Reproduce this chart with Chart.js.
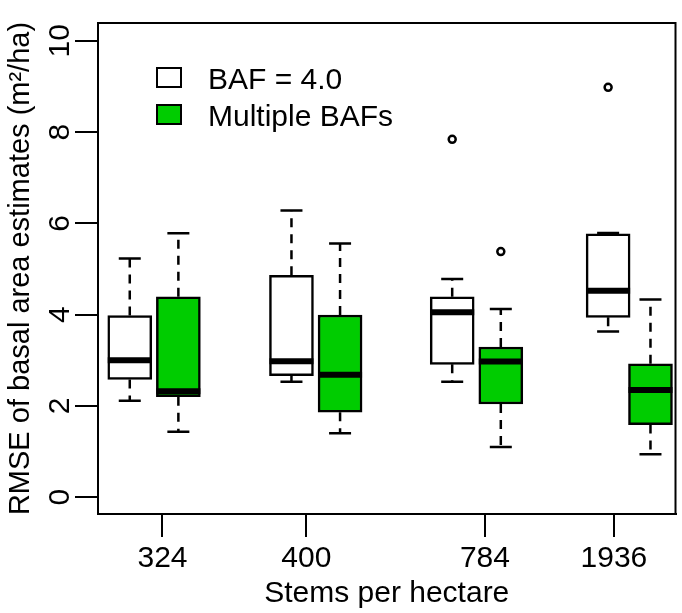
<!DOCTYPE html>
<html>
<head>
<meta charset="utf-8">
<title>RMSE of basal area estimates</title>
<script src="https://cdn.jsdelivr.net/npm/chart.js@4.4.1/dist/chart.umd.min.js"></script>
<style>
  html, body { margin: 0; padding: 0; background: #fff; }
  #wrap { width: 682px; height: 613px; }
</style>
</head>
<body>
<div id="wrap"><canvas id="boxChart" width="682" height="613"></canvas></div>
<script>
// Data
const stems = ['324', '400', '784', '1936'];
const seriesNames = ['BAF = 4.0', 'Multiple BAFs'];

// BAF = 4.0
const bafLow  = [2.11, 2.53, 2.53, 3.63];
const bafQ1   = [2.58, 2.66, 2.91, 3.94];
const bafMed  = [3.00, 2.98, 4.05, 4.52];
const bafQ3   = [3.98, 4.86, 4.39, 5.77];
const bafHigh = [5.23, 6.28, 4.78, 5.79];
const bafOut  = [[], [], [7.84], [8.98]];

// Multiple BAFs
const multiLow  = [1.43, 1.40, 1.10, 0.94];
const multiQ1   = [2.20, 1.86, 2.04, 1.59];
const multiMed  = [2.32, 2.68, 2.97, 2.35];
const multiQ3   = [4.39, 3.99, 3.29, 2.92];
const multiHigh = [5.78, 5.56, 4.12, 4.33];
const multiOut  = [[], [], [5.38], []];

const yTicks = [0, 2, 4, 6, 8, 10];

// where boxes and tick marks sit along x (like R's "at")
const bafAt   = [0.66, 4.02, 7.36, 10.60];
const multiAt = [1.67, 5.03, 8.37, 11.48];
const tickAt  = [1.34, 4.33, 8.04, 10.72];

const GREEN = '#00cc00';
const FONT = 'Liberation Sans, Arial, Helvetica, sans-serif';
Chart.defaults.font.family = FONT;
Chart.defaults.color = '#000';

function boxData(at, q1, q3) {
  return at.map((x, i) => ({ x: x, y: [q1[i], q3[i]] }));
}
function outData(at, outs) {
  const pts = [];
  outs.forEach((arr, i) => arr.forEach(v => pts.push({ x: at[i], y: v })));
  return pts;
}

// whiskers, medians, frame and legend
const boxPlugin = {
  id: 'boxExtras',
  afterDatasetsDraw(chart) {
    const { ctx, chartArea: a, scales: { x, y } } = chart;
    const groups = [
      { at: bafAt, low: bafLow, med: bafMed, q1: bafQ1, q3: bafQ3, high: bafHigh },
      { at: multiAt, low: multiLow, med: multiMed, q1: multiQ1, q3: multiQ3, high: multiHigh }
    ];
    ctx.save();
    ctx.strokeStyle = '#000';
    groups.forEach(g => {
      g.at.forEach((pos, i) => {
        const cx = x.getPixelForValue(pos);
        const half = 22, cap = 11;
        // whiskers
        ctx.lineWidth = 2.5;
        ctx.setLineDash([9, 7]);
        ctx.beginPath();
        ctx.moveTo(cx, y.getPixelForValue(g.q3[i]));
        ctx.lineTo(cx, y.getPixelForValue(g.high[i]));
        ctx.moveTo(cx, y.getPixelForValue(g.q1[i]));
        ctx.lineTo(cx, y.getPixelForValue(g.low[i]));
        ctx.stroke();
        ctx.setLineDash([]);
        ctx.beginPath();
        [g.high[i], g.low[i]].forEach(v => {
          const py = y.getPixelForValue(v);
          ctx.moveTo(cx - cap, py);
          ctx.lineTo(cx + cap, py);
        });
        ctx.stroke();
        // median
        ctx.lineWidth = 6;
        ctx.beginPath();
        const my = y.getPixelForValue(g.med[i]);
        ctx.moveTo(cx - half, my);
        ctx.lineTo(cx + half, my);
        ctx.stroke();
      });
    });

    // plot frame
    ctx.lineWidth = 2;
    ctx.strokeRect(a.left, a.top, a.right - a.left, a.bottom - a.top);

    // legend
    ctx.font = '30px ' + FONT;
    ctx.textBaseline = 'alphabetic';
    ctx.textAlign = 'left';
    [0, 1].forEach(k => {
      const ds = chart.data.datasets[k];
      const top = a.top + 45 + k * 37;
      ctx.fillStyle = ds.backgroundColor;
      ctx.fillRect(a.left + 59, top, 24, 19);
      ctx.lineWidth = 2;
      ctx.strokeRect(a.left + 59, top, 24, 19);
      ctx.fillStyle = '#000';
      ctx.fillText(ds.label, a.left + 110, top + 21);
    });
    ctx.restore();
  }
};

const ctx = document.getElementById('boxChart').getContext('2d');
new Chart(ctx, {
  type: 'bar',
  data: {
    datasets: [
      {
        label: seriesNames[0],
        data: boxData(bafAt, bafQ1, bafQ3),
        backgroundColor: '#ffffff',
        borderColor: '#000',
        borderWidth: 2.5,
        borderSkipped: false,
        barThickness: 44,
        grouped: false
      },
      {
        label: seriesNames[1],
        data: boxData(multiAt, multiQ1, multiQ3),
        backgroundColor: GREEN,
        borderColor: '#000',
        borderWidth: 2.5,
        borderSkipped: false,
        barThickness: 44,
        grouped: false
      },
      {
        type: 'line',
        label: 'outliers1',
        data: outData(bafAt, bafOut),
        showLine: false,
        pointRadius: 3.5,
        pointBorderWidth: 2.5,
        pointBorderColor: '#000',
        pointBackgroundColor: '#fff'
      },
      {
        type: 'line',
        label: 'outliers2',
        data: outData(multiAt, multiOut),
        showLine: false,
        pointRadius: 3.5,
        pointBorderWidth: 2.5,
        pointBorderColor: '#000',
        pointBackgroundColor: '#fff'
      }
    ]
  },
  options: {
    responsive: false,
    animation: false,
    layout: { padding: { top: 23, right: 2 } },
    plugins: { legend: { display: false }, tooltip: { enabled: false } },
    scales: {
      x: {
        type: 'linear',
        min: 0,
        max: 12,
        offset: false,
        afterBuildTicks: s => { s.ticks = tickAt.map(v => ({ value: v })); },
        afterFit: s => { s.height = 99; },
        ticks: {
          callback: (v, i) => stems[i],
          autoSkip: false,
          maxRotation: 0,
          padding: 4,
          color: '#000',
          font: { size: 30 }
        },
        grid: { drawOnChartArea: false, offset: false, tickLength: 23, color: '#000', lineWidth: 2 },
        border: { display: true, color: '#000', width: 2 },
        title: { display: true, text: 'Stems per hectare', color: '#000', font: { size: 30 }, padding: { top: 0, bottom: 1 } }
      },
      y: {
        min: -0.37,
        max: 10.39,
        afterBuildTicks: s => { s.ticks = yTicks.map(v => ({ value: v })); },
        afterFit: s => { s.width = 98; },
        ticks: {
          autoSkip: false,
          minRotation: 90,
          maxRotation: 90,
          crossAlign: 'center',
          padding: -2,
          color: '#000',
          font: { size: 30 }
        },
        grid: { drawOnChartArea: false, tickLength: 23, color: '#000', lineWidth: 2 },
        border: { display: true, color: '#000', width: 2 },
        title: { display: true, text: 'RMSE of basal area estimates (m²/ha)', color: '#000', font: { size: 29 }, padding: { top: 4, bottom: 0 } }
      }
    }
  },
  plugins: [boxPlugin]
});
</script>
</body>
</html>
